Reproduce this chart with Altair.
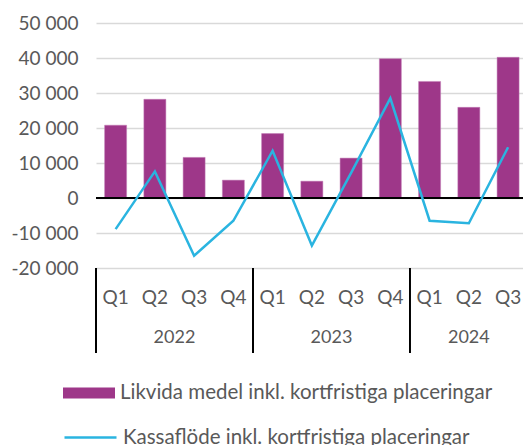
import altair as alt
import pandas as pd

quarters = ["Q1", "Q2", "Q3", "Q4", "Q1", "Q2", "Q3", "Q4", "Q1", "Q2", "Q3"]
years = ["2022", "2022", "2022", "2022", "2023", "2023", "2023", "2023", "2024", "2024", "2024"]
likvida = [20800, 28200, 11600, 5100, 18400, 4800, 11400, 39800, 33300, 25900, 40200]
kassaflode = [-8900, 7600, -16500, -6500, 13500, -13600, 7200, 28500, -6500, -7200, 14500]
year_labels = ["2022", "2023", "2024"]
year_start = [0, 4, 8]
year_mid = [2, 6, 9.5]
y_ticks = [-20000, -10000, 0, 10000, 20000, 30000, 40000, 50000]

BAR_NAME = "Likvida medel inkl. kortfristiga placeringar"
LINE_NAME = "Kassaflöde inkl. kortfristiga placeringar"

df = pd.DataFrame({
    "pos": [i + 0.5 for i in range(len(quarters))],
    "quarter": quarters,
    "year": years,
    "likvida": likvida,
    "kassa": kassaflode,
    "bar_series": BAR_NAME,
    "line_series": LINE_NAME,
})
years_df = pd.DataFrame({"year": year_labels, "start": year_start, "mid": year_mid})

FONT = "Lato"
GRAY = "#595959"

xscale = alt.Scale(domain=[0, 10.88], nice=False, zero=False, padding=0)
yscale = alt.Scale(domain=[-20000, 50000], nice=False)

yaxis = alt.Axis(values=y_ticks, title=None, domain=False, ticks=False,
                 labelExpr="(datum.value < 0 ? '-' : '') + replace(format(abs(datum.value), ',d'), ',', ' ')",
                 labelFontSize=19, labelColor=GRAY, labelFont=FONT,
                 labelPadding=18, labelOverlap=False, grid=True,
                 gridColor="#d9d9d9", gridWidth=1.5)

base = alt.Chart(df)

bars = base.mark_bar(width=22, stroke="#c27cb6", strokeWidth=0.5).encode(
    x=alt.X("pos:Q", scale=xscale, axis=None),
    y=alt.Y("likvida:Q", scale=yscale, axis=yaxis),
    color=alt.Color("bar_series:N",
                    scale=alt.Scale(domain=[BAR_NAME], range=["#9e3789"]),
                    legend=alt.Legend(title=None, orient="none", legendX=-33, legendY=344,
                                      symbolType="M-1,-0.21L1,-0.21L1,0.21L-1,0.21Z",
                                      symbolSize=2704, symbolStrokeWidth=0,
                                      symbolOpacity=1,
                                      labelFontSize=20.5, labelColor=GRAY, labelFont=FONT,
                                      labelOffset=5, labelLimit=500)),
)

zero = alt.Chart(pd.DataFrame({"z": [0]})).mark_rule(color="black", strokeWidth=2).encode(
    y=alt.Y("z:Q", scale=yscale, axis=yaxis)
)

line = base.mark_line(strokeWidth=2.5).encode(
    x=alt.X("pos:Q", scale=xscale, axis=None),
    y=alt.Y("kassa:Q", scale=yscale, axis=yaxis),
    stroke=alt.Stroke("line_series:N",
                      scale=alt.Scale(domain=[LINE_NAME], range=["#2ab4e0"]),
                      legend=alt.Legend(title=None, orient="none", legendX=-33, legendY=387,
                                        symbolType="stroke", symbolSize=2704,
                                        symbolStrokeWidth=2.5,
                                        labelFontSize=20.5, labelColor=GRAY, labelFont=FONT,
                                        labelOffset=5, labelLimit=500)),
)

qlabels = base.mark_text(fontSize=19, font=FONT, color=GRAY, baseline="middle").encode(
    x=alt.X("pos:Q", scale=xscale, axis=None),
    y=alt.value(275),
    text="quarter:N",
)

ylabels = alt.Chart(years_df).mark_text(fontSize=18, font=FONT, color=GRAY, baseline="middle").encode(
    x=alt.X("mid:Q", scale=xscale, axis=None),
    y=alt.value(315),
    text="year:N",
)

seps = alt.Chart(years_df).mark_rule(color="black", strokeWidth=2).encode(
    x=alt.X("start:Q", scale=xscale, axis=None),
    y=alt.value(245),
    y2=alt.value(330),
)

chart = alt.layer(bars, zero, line, qlabels, ylabels, seps).resolve_scale(
    color="independent", stroke="independent"
).properties(
    width=427, height=245,
    background="white",
    padding={"left": 96, "top": 23, "right": 0, "bottom": 177},
    autosize=alt.AutoSizeParams(type="none"),
).configure_view(stroke=None, strokeWidth=0)

chart.save("out.html", embed_options={"renderer": "svg", "actions": False})
